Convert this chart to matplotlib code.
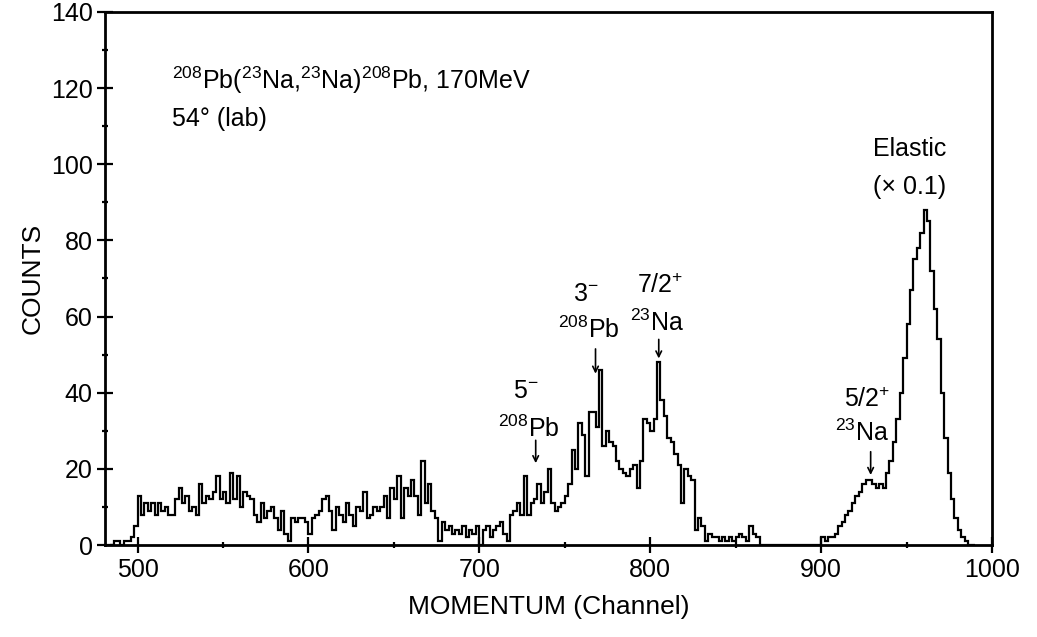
import numpy as np
import matplotlib
matplotlib.use("Agg")
import matplotlib.pyplot as plt
from matplotlib.ticker import MultipleLocator

plt.rcParams["font.family"] = ["Liberation Sans", "DejaVu Sans"]
plt.rcParams["mathtext.default"] = "regular"

# spectrum: counts in 2-channel bins starting at channel 484
chan_start = 484
bin_width = 2
counts_low = [0, 1, 1, 0, 1, 1, 2, 5,
              13, 8, 11, 9, 11, 8, 11, 9, 10, 8,
              8, 12, 15, 11, 13, 9, 10, 8, 16, 11,
              13, 12, 14, 18, 12, 14, 11, 19, 12, 18,
              10, 14, 13, 12, 8, 6, 11, 7, 9, 10,
              7, 4, 9, 3, 1, 7, 6, 7, 7, 6,
              3, 7, 8, 9, 12, 13, 9, 4, 10, 8,
              6, 11, 8, 5, 10, 9, 14, 7, 8, 10,
              9, 10, 13, 7, 15, 12, 18, 7, 15, 13,
              17, 13, 8, 22, 11, 16, 9, 7, 1, 6,
              4, 5, 3, 4, 3, 5, 2, 4, 3, 5,
              0, 4, 5, 2, 4, 5, 6, 3, 1, 8]
counts_mid = [9, 11, 8, 18, 8, 11, 12, 16, 11, 14,
              20, 11, 9, 10, 11, 13, 16, 25, 20, 32,
              29, 18, 35, 35, 31, 46, 26, 30, 27, 26,
              22, 20, 19, 18, 20, 21, 15, 22, 33, 32,
              30, 33, 48, 38, 34, 28, 27, 24, 21, 11,
              20, 18, 17, 4, 7, 5, 1, 3, 2, 2,
              1, 2, 1, 2, 1, 2, 3, 2, 1, 5,
              3, 2, 0]
counts_gap = [0] * 17
counts_high = [2, 1, 2, 2, 3, 5, 6, 8, 9, 11,
               13, 14, 16, 17, 17, 16, 15, 16, 15, 19,
               22, 27, 33, 40, 49, 58, 67, 75, 78, 82,
               88, 85, 72, 62, 54, 40, 28, 19, 12, 7,
               4, 2, 1, 0, 0]
counts = np.array(counts_low + counts_mid + counts_gap + counts_high)
edges = chan_start + bin_width * np.arange(len(counts) + 1)

fig = plt.figure(figsize=(10.37, 6.37), dpi=100)
ax = fig.add_axes([0.1013, 0.1444, 0.8553, 0.8368])

ax.stairs(counts, edges, color="black", lw=1.6, baseline=0)

ax.set_xlim(481, 1000)
ax.set_ylim(0, 140)
ax.xaxis.set_major_locator(MultipleLocator(100))
ax.xaxis.set_minor_locator(MultipleLocator(50))
ax.yaxis.set_major_locator(MultipleLocator(20))
ax.yaxis.set_minor_locator(MultipleLocator(10))
ax.tick_params(which="major", direction="inout", length=12, width=1.6,
               labelsize=18, pad=3)
ax.tick_params(which="minor", direction="inout", length=5, width=1.6)
for s in ax.spines.values():
    s.set_linewidth(2.0)

ax.set_xlabel("MOMENTUM (Channel)", fontsize=19, labelpad=10)
ax.set_ylabel("COUNTS", fontsize=19, labelpad=4)

fs = 18
ax.text(520, 122, r"$^{208}$Pb($^{23}$Na,$^{23}$Na)$^{208}$Pb, 170MeV",
        fontsize=fs, va="center", ha="left")
ax.text(520, 112, "54° (lab)", fontsize=fs, va="center", ha="left")

ax.text(952, 104, "Elastic", fontsize=fs, ha="center", va="center")
ax.text(952, 94, "(× 0.1)", fontsize=fs, ha="center", va="center")

arrow = dict(arrowstyle="->", color="black", lw=1.2, shrinkA=0, shrinkB=0)

# 5- state of 208Pb
ax.text(727, 40.5, "$5^{-}$", fontsize=fs, ha="center", va="center")
ax.text(729, 30.5, "$^{208}$Pb", fontsize=fs, ha="center", va="center")
ax.annotate("", xy=(733, 21.5), xytext=(733, 27.5), arrowprops=arrow)

# 3- state of 208Pb
ax.text(762, 66, "$3^{-}$", fontsize=fs, ha="center", va="center")
ax.text(764, 56.5, "$^{208}$Pb", fontsize=fs, ha="center", va="center")
ax.annotate("", xy=(768, 45), xytext=(768, 51.5), arrowprops=arrow)

# 7/2+ state of 23Na
ax.text(806, 68, "$7/2^{+}$", fontsize=fs, ha="center", va="center")
ax.text(804, 58.3, "$^{23}$Na", fontsize=fs, ha="center", va="center")
ax.annotate("", xy=(805, 49), xytext=(805, 54), arrowprops=arrow)

# 5/2+ state of 23Na
ax.text(927, 38, "$5/2^{+}$", fontsize=fs, ha="center", va="center")
ax.text(924, 29.4, "$^{23}$Na", fontsize=fs, ha="center", va="center")
ax.annotate("", xy=(929, 18.4), xytext=(929, 24.5), arrowprops=arrow)

fig.savefig("out.png", dpi=100)
